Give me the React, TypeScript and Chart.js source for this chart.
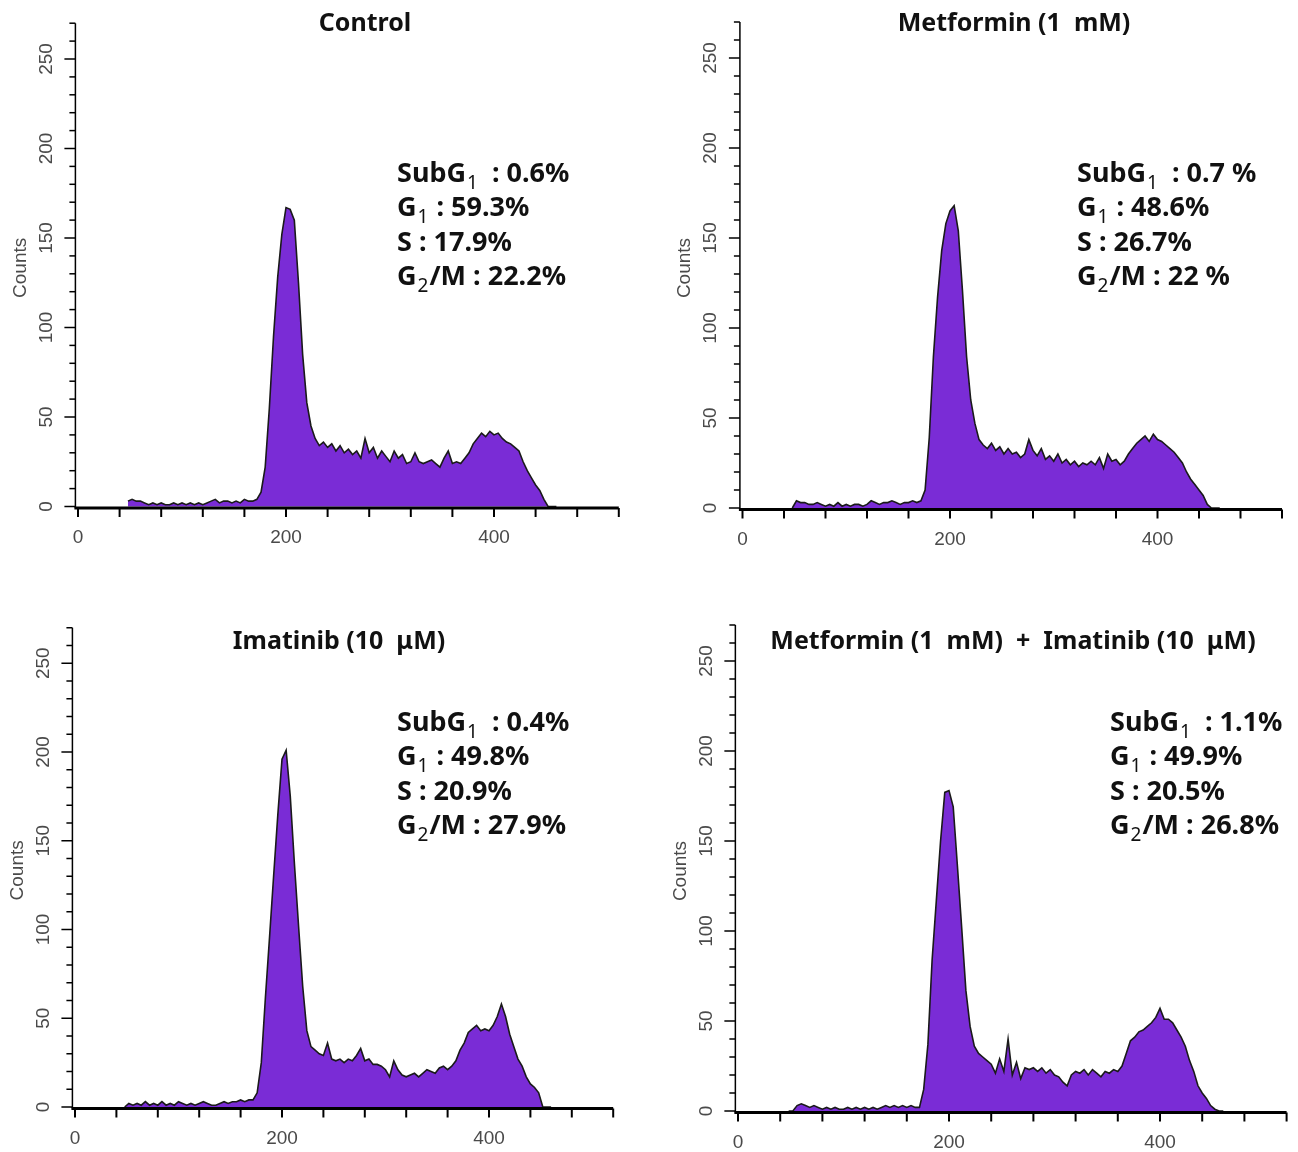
import React, { useEffect, useRef } from 'react';
import { Chart, registerables } from 'chart.js';

Chart.register(...registerables);

// ---- data (DNA content channel vs counts) ----
const channels = [
  48, 52, 56, 60, 64, 68, 72, 76, 80, 84,
  88, 92, 96, 100, 104, 108, 112, 116, 120, 124,
  128, 132, 136, 140, 144, 148, 152, 156, 160, 164,
  168, 172, 176, 180, 184, 188, 192, 196, 200, 204,
  208, 212, 216, 220, 224, 228, 232, 236, 240, 244,
  248, 252, 256, 260, 264, 268, 272, 276, 280, 284,
  288, 292, 296, 300, 304, 308, 312, 316, 320, 324,
  328, 332, 336, 340, 344, 348, 352, 356, 360, 364,
  368, 372, 376, 380, 384, 388, 392, 396, 400, 404,
  408, 412, 416, 420, 424, 428, 432, 436, 440, 444,
  448, 452, 456, 460,
];

const controlCounts = [
  3, 4, 3, 3, 2, 1, 2, 1, 2, 1,
  1, 2, 1, 2, 1, 2, 1, 2, 1, 2,
  3, 4, 2, 3, 3, 2, 3, 2, 4, 3,
  3, 4, 8, 22, 55, 95, 128, 152, 167, 166,
  160, 125, 85, 58, 45, 38, 34, 36, 33, 35,
  31, 34, 30, 32, 29, 31, 27, 38, 30, 33,
  27, 31, 28, 25, 31, 27, 29, 24, 25, 30,
  25, 24, 25, 26, 24, 22, 27, 31, 24, 25,
  24, 27, 30, 35, 38, 41, 39, 42, 40, 41,
  38, 36, 35, 33, 31, 25, 20, 16, 12, 9,
  4, 0, 0, 0,
];

const metforminCounts = [
  0, 4, 3, 3, 2, 2, 3, 2, 1, 2,
  1, 3, 1, 2, 1, 2, 2, 1, 2, 4,
  3, 2, 3, 3, 4, 3, 2, 3, 3, 4,
  3, 4, 10, 39, 84, 117, 143, 158, 165, 168,
  154, 121, 84, 60, 47, 38, 35, 33, 36, 32,
  34, 30, 33, 30, 31, 28, 30, 38, 32, 29,
  33, 27, 29, 26, 30, 25, 27, 24, 26, 23,
  25, 24, 26, 24, 28, 22, 30, 26, 27, 24,
  26, 30, 33, 36, 38, 40, 37, 41, 38, 37,
  35, 33, 31, 28, 25, 20, 16, 13, 10, 7,
  2, 0, 0, 0,
];

const imatinibCounts = [
  0, 2, 1, 2, 1, 3, 1, 2, 1, 3,
  1, 2, 1, 3, 2, 1, 2, 1, 2, 3,
  2, 1, 1, 2, 3, 2, 3, 3, 4, 3,
  4, 4, 8, 25, 62, 96, 131, 165, 196, 201,
  175, 137, 102, 68, 43, 34, 32, 30, 29, 36,
  27, 26, 27, 25, 27, 26, 29, 33, 26, 27,
  24, 24, 23, 21, 17, 26, 21, 18, 17, 18,
  19, 17, 19, 21, 20, 19, 22, 23, 21, 23,
  26, 32, 36, 42, 44, 46, 43, 44, 43, 46,
  51, 58, 51, 41, 34, 27, 23, 17, 13, 11,
  8, 0, 0, 0,
];

const comboCounts = [
  0, 0, 3, 4, 3, 2, 3, 2, 1, 2,
  1, 2, 1, 1, 2, 1, 2, 1, 2, 1,
  2, 1, 2, 3, 2, 3, 2, 3, 2, 3,
  2, 2, 12, 37, 84, 117, 150, 177, 178, 169,
  136, 102, 67, 47, 36, 32, 30, 28, 26, 21,
  29, 22, 40, 20, 27, 18, 24, 23, 24, 22,
  24, 21, 23, 20, 19, 16, 14, 20, 22, 21,
  23, 20, 23, 21, 19, 22, 21, 23, 22, 25,
  32, 39, 41, 44, 45, 47, 49, 52, 57, 51,
  51, 49, 45, 41, 36, 28, 22, 14, 10, 7,
  3, 1, 0, 0,
];

const yTickValues = [0, 10, 20, 30, 40, 50, 60, 70, 80, 90, 100, 110, 120, 130, 140, 150, 160, 170, 180, 190, 200, 210, 220, 230, 240, 250, 260, 270];
const yLabelValues = [0, 50, 100, 150, 200, 250];
const xTickValues = [0, 40, 80, 120, 160, 200, 240, 280, 320, 360, 400, 440, 480, 520];
const xLabelValues = [0, 200, 400];

const panelTitles = ['Control', 'Metformin (1  mM)', 'Imatinib (10  μM)', 'Metformin (1  mM)  +  Imatinib (10  μM)'];

// [main, subscript, rest]
const controlStats: [string, string, string][] = [['SubG', '1', ' : 0.6%'], ['G', '1', ' : 59.3%'], ['S', '', ' : 17.9%'], ['G', '2', '/M : 22.2%']];
const metforminStats: [string, string, string][] = [['SubG', '1', ' : 0.7 %'], ['G', '1', ' : 48.6%'], ['S', '', ' : 26.7%'], ['G', '2', '/M : 22 %']];
const imatinibStats: [string, string, string][] = [['SubG', '1', ' : 0.4%'], ['G', '1', ' : 49.8%'], ['S', '', ' : 20.9%'], ['G', '2', '/M : 27.9%']];
const comboStats: [string, string, string][] = [['SubG', '1', ' : 1.1%'], ['G', '1', ' : 49.9%'], ['S', '', ' : 20.5%'], ['G', '2', '/M : 26.8%']];

// ---- layout ----
const QW = 649;
const QH = 576;
const X_MIN = -2.5;
const X_MAX = 520;
const Y_MIN = -1.2;
const Y_MAX = 270;

type Panel = {
  title: string;
  stats: [string, string, string][];
  counts: number[];
  qx: number; qy: number;
  x0: number; xs: number;
  y0: number; ys: number;
  titleX: number; titleY: number;
  statsX: number; statsY: number;
};

const panels: Panel[] = [
  { title: panelTitles[0], stats: controlStats, counts: controlCounts, qx: 0, qy: 0, x0: 78, xs: 1.04, y0: 506.5, ys: 1.79, titleX: 365, titleY: 22, statsX: 397, statsY: 172 },
  { title: panelTitles[1], stats: metforminStats, counts: metforminCounts, qx: 649, qy: 0, x0: 742.5, xs: 1.0375, y0: 508, ys: 1.8, titleX: 1014, titleY: 22, statsX: 1077, statsY: 172 },
  { title: panelTitles[2], stats: imatinibStats, counts: imatinibCounts, qx: 0, qy: 576, x0: 75, xs: 1.035, y0: 1107, ys: 1.775, titleX: 339, titleY: 640, statsX: 397, statsY: 721 },
  { title: panelTitles[3], stats: comboStats, counts: comboCounts, qx: 649, qy: 576, x0: 738, xs: 1.055, y0: 1111, ys: 1.8, titleX: 1013, titleY: 640, statsX: 1110, statsY: 721 },
];

const FILL = '#7a2cd6';
const TEXT_FONT = '"Noto Sans", "Open Sans", sans-serif';
const TICK_FONT = '"Liberation Sans", Arial, sans-serif';

function makePlugin(p: Panel) {
  return {
    id: 'flowDecor',
    afterDatasetsDraw(chart: any) {
      const { ctx, chartArea } = chart;
      const xs = chart.scales.x;
      const ys = chart.scales.y;
      const left = chartArea.left;
      const zeroY = ys.getPixelForValue(0);
      const axisY = zeroY + 1.5;
      ctx.save();
      ctx.strokeStyle = '#000';
      // y axis
      ctx.lineWidth = 1.5;
      ctx.beginPath();
      ctx.moveTo(left, chartArea.top);
      ctx.lineTo(left, axisY);
      ctx.stroke();
      for (const v of yTickValues) {
        const py = ys.getPixelForValue(v);
        const len = v % 50 === 0 ? 11 : 6;
        ctx.beginPath();
        ctx.moveTo(left - len, py);
        ctx.lineTo(left, py);
        ctx.stroke();
      }
      // x axis
      ctx.lineWidth = 3;
      ctx.beginPath();
      ctx.moveTo(left - 1, axisY);
      ctx.lineTo(chartArea.right, axisY);
      ctx.stroke();
      ctx.lineWidth = 2;
      for (const v of xTickValues) {
        const px = xs.getPixelForValue(v);
        ctx.beginPath();
        ctx.moveTo(px, axisY);
        ctx.lineTo(px, axisY + 9);
        ctx.stroke();
      }
      // tick labels
      ctx.fillStyle = '#4a4a4a';
      ctx.font = `19px ${TICK_FONT}`;
      ctx.textAlign = 'center';
      ctx.textBaseline = 'middle';
      for (const v of xLabelValues) {
        ctx.fillText(String(v), xs.getPixelForValue(v), axisY + 30);
      }
      for (const v of yLabelValues) {
        ctx.save();
        ctx.translate(left - 29, ys.getPixelForValue(v));
        ctx.rotate(-Math.PI / 2);
        ctx.fillText(String(v), 0, 0);
        ctx.restore();
      }
      ctx.save();
      ctx.font = `19px ${TICK_FONT}`;
      ctx.translate(left - 55, (chartArea.top + zeroY) / 2 + 3);
      ctx.rotate(-Math.PI / 2);
      ctx.fillText('Counts', 0, 0);
      ctx.restore();

      // title
      ctx.fillStyle = '#111';
      ctx.font = `bold 25px ${TEXT_FONT}`;
      ctx.textAlign = 'center';
      ctx.textBaseline = 'alphabetic';
      ctx.fillText(p.title, p.titleX - p.qx, p.titleY - p.qy + 9);

      // stats
      ctx.textAlign = 'left';
      const size = 27;
      p.stats.forEach((seg, i) => {
        let cx = p.statsX - p.qx;
        const by = p.statsY - p.qy + i * 34.3 + 10;
        ctx.font = `bold ${size}px ${TEXT_FONT}`;
        ctx.fillText(seg[0], cx, by);
        cx += ctx.measureText(seg[0]).width;
        if (seg[1]) {
          ctx.font = `${Math.round(size * 0.7)}px ${TEXT_FONT}`;
          ctx.fillText(seg[1], cx + 1, by + 7);
          cx += ctx.measureText(seg[1]).width + 2;
          ctx.font = `bold ${size}px ${TEXT_FONT}`;
          if (seg[0] === 'SubG') cx += 6;
        }
        ctx.fillText(seg[2], cx, by);
      });
      ctx.restore();
    },
  };
}

function PanelChart({ panel }: { panel: Panel }) {
  const ref = useRef<HTMLCanvasElement>(null);
  useEffect(() => {
    const p = panel;
    const left = p.x0 + X_MIN * p.xs;
    const right = p.x0 + X_MAX * p.xs;
    const top = p.y0 - Y_MAX * p.ys;
    const bottom = p.y0 - Y_MIN * p.ys;
    const chart = new Chart(ref.current as HTMLCanvasElement, {
      type: 'line',
      data: {
        datasets: [
          {
            data: channels.map((c, i) => ({ x: c, y: p.counts[i] })),
            borderColor: '#1a1a1a',
            borderWidth: 1.6,
            backgroundColor: FILL,
            fill: 'origin',
            pointRadius: 0,
            tension: 0,
          },
        ],
      },
      options: {
        responsive: false,
        maintainAspectRatio: false,
        animation: false,
        events: [],
        layout: {
          padding: {
            left: left - p.qx,
            right: p.qx + QW - right,
            top: top - p.qy,
            bottom: p.qy + QH - bottom,
          },
        },
        plugins: { legend: { display: false }, title: { display: false }, tooltip: { enabled: false } },
        scales: {
          x: { type: 'linear', min: X_MIN, max: X_MAX, display: false },
          y: { type: 'linear', min: Y_MIN, max: Y_MAX, display: false },
        },
      },
      plugins: [makePlugin(p)],
    } as any);
    return () => chart.destroy();
  }, [panel]);
  return (
    <canvas
      ref={ref}
      width={QW}
      height={QH}
      style={{ position: 'absolute', left: panel.qx, top: panel.qy, width: QW, height: QH }}
    />
  );
}

export default function App() {
  return (
    <div style={{ position: 'absolute', left: 0, top: 0, width: 1298, height: 1152, background: '#fff', overflow: 'hidden' }}>
      {panels.map((p, i) => (
        <PanelChart key={i} panel={p} />
      ))}
    </div>
  );
}
